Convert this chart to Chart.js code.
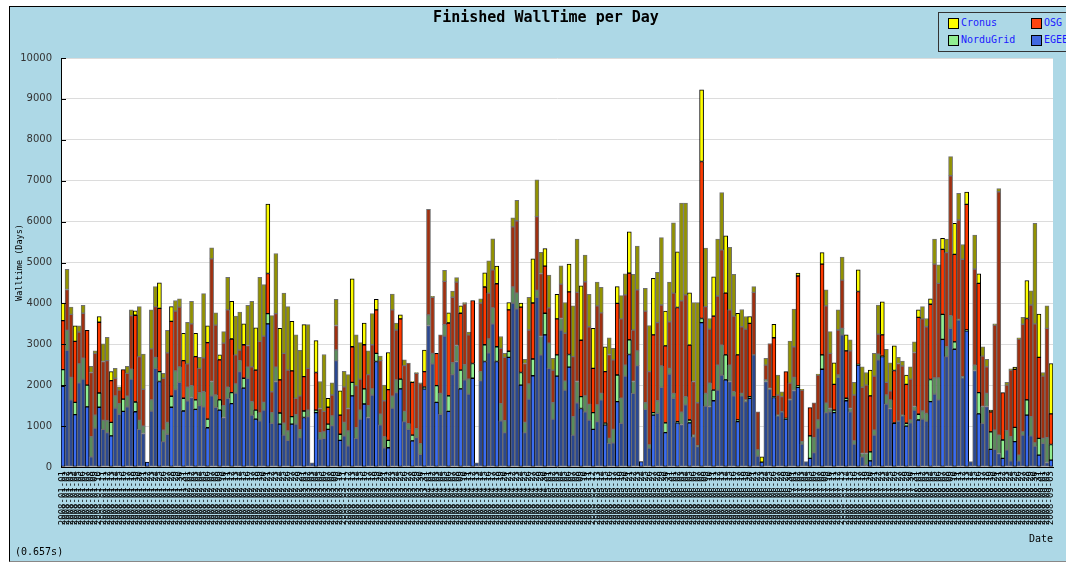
<!DOCTYPE html>
<html><head><meta charset="utf-8">
<script src="https://cdn.jsdelivr.net/npm/chart.js@4.4.1/dist/chart.umd.min.js"></script>
<style>
html,body{margin:0;padding:0;background:#fff;width:1066px;height:563px;overflow:hidden;}
#frame{position:absolute;left:9px;top:6px;width:1100px;height:554px;background:#add8e6;border-top:1px solid #000;border-left:1px solid #000;border-bottom:1px solid #888;}
#c{position:absolute;left:0;top:0;}
#title{position:absolute;left:0;width:1092px;top:8px;text-align:center;font:bold 15px "DejaVu Sans Mono",monospace;color:#000;}
#legend{position:absolute;left:938px;top:12px;width:140px;height:38px;border:1px solid #333;background:#add8e6;}
.sw{position:absolute;width:9px;height:9px;border:1px solid #000;}
.lt{position:absolute;font:10px "DejaVu Sans Mono",monospace;color:#1a1aff;line-height:12px;white-space:nowrap;}
#foot{position:absolute;left:15px;top:546px;font:10px "DejaVu Sans Mono",monospace;color:#000;}
</style></head>
<body>
<div id="frame"></div>
<canvas id="c" width="1066" height="563"></canvas>
<div id="title">Finished WallTime per Day</div>
<div id="legend"></div>
<div id="foot">(0.657s)</div>
<script>
const seriesNames = ['EGEE','NorduGrid','OSG','Cronus'];
const startDate = '2008-01-01';
const dayCount = 247;

const egee = [
1970,2850,1640,1280,2060,2150,1470,250,950,1460,
920,840,760,1440,1290,1360,1470,2150,1350,920,
820,120,1370,2410,2090,620,800,1460,1890,2070,
1370,1620,1700,1410,1500,1470,960,1740,1460,1390,
1210,1680,1550,1810,2330,1930,2170,1270,1170,1130,
1390,3500,1070,2090,1050,780,650,1050,1050,720,
1210,1230,100,1330,680,700,920,1010,2600,650,
760,520,1740,700,1170,1540,1210,1760,2580,1030,
470,470,1440,1820,1910,1110,920,640,720,310,
1910,3460,2520,1580,1290,3200,1360,2260,2580,1910,
2130,1780,2170,100,2110,2580,2790,3500,2580,1130,
840,2680,4010,3870,2000,840,1660,2230,4150,2740,
3230,2410,1170,2220,3350,1880,2440,780,1570,1430,
1350,1150,920,1110,1640,1030,580,590,1600,1070,
2220,2750,1800,2480,130,1410,460,1270,1310,1950,
840,2270,1680,1080,1040,1520,1080,740,500,3530,
1490,1480,1620,1880,2250,2130,2090,1740,1110,1740,
1600,1680,2740,270,120,2090,1900,1700,1250,1350,
1170,1640,1870,1950,560,130,210,350,950,2390,
1330,1350,1330,2190,3230,1620,1350,560,2490,250,
50,150,780,2620,2700,1540,1430,1070,1120,1250,
1000,1080,1390,1150,1170,1120,1600,1780,1640,3120,
2700,3390,2880,3590,2180,3330,130,2360,1300,1070,
1480,430,430,330,210,420,150,620,150,780,
1270,760,510,290,580,110,170];

const nordugrid = [
410,490,550,300,460,510,530,490,320,350,
220,290,330,300,260,300,260,240,240,220,
180,0,270,270,240,280,290,270,460,380,
310,330,290,230,320,370,210,350,300,250,
290,270,270,220,270,240,270,330,220,190,
190,250,260,350,270,290,230,180,230,190,
160,160,0,60,160,160,130,240,260,150,
330,360,330,260,220,370,290,150,200,260,
270,180,290,310,240,250,140,140,220,260,
40,260,260,410,510,280,380,290,390,460,
370,370,360,0,220,410,340,390,360,420,
290,150,390,380,310,250,370,410,170,450,
530,620,400,520,280,220,310,450,520,290,
390,380,410,410,160,40,120,330,650,610,
270,360,290,360,0,160,80,60,310,520,
240,140,120,30,300,200,70,40,20,100,
310,570,260,610,730,610,400,100,40,60,
40,40,0,150,0,40,20,20,20,0,
20,10,320,30,60,0,550,370,200,350,
230,80,60,60,160,60,80,80,20,80,
280,220,120,140,10,220,210,10,0,20,
70,70,90,140,200,190,540,400,540,610,
240,310,180,20,30,20,0,130,520,410,
320,430,470,450,450,470,590,350,140,80,
370,470,80,410,120,610,380];

const osg = [
1200,1000,1540,1490,780,1100,1340,1570,1510,1730,
1440,1470,1020,430,330,720,560,1310,2120,1560,
900,0,1250,1240,1550,1270,1700,1830,1460,1460,
920,570,1510,1060,590,830,1870,3000,1710,980,
1530,1890,1310,710,260,820,530,850,980,1750,
1620,980,510,1310,810,1710,1490,1120,400,830,
840,1020,0,920,590,500,410,510,600,470,
870,550,870,1030,760,1080,760,1080,1060,1310,
880,1240,2110,1220,1470,1120,1480,1290,1350,1470,
380,2580,1370,790,1430,1060,1780,1600,1550,1390,
1490,1080,1540,0,1680,1410,1120,930,1540,1350,
1550,1010,1470,1770,1600,1440,1320,1370,1800,1540,
1150,860,800,880,840,1170,1530,1470,2180,1380,
2790,1900,1080,2420,1970,1260,2050,1700,1750,1940,
1720,1630,1260,1490,0,2240,1790,1900,1910,1490,
1880,1140,2450,2790,2720,2490,1830,1310,1050,3840,
2120,1320,1810,1690,2330,1510,1350,1850,1590,1630,
1730,1790,1530,930,0,360,1100,1440,490,370,
1140,400,750,2690,1260,0,690,850,1100,2220,
2380,1350,630,1100,1180,1160,1410,1120,1780,1620,
1670,1370,1320,490,520,310,220,1280,1410,1200,
950,1000,1320,2370,2250,2120,1840,2780,2310,1590,
2300,3420,2140,2430,2870,3070,0,2350,2670,1230,
650,490,2570,5950,1160,1110,1630,1420,2840,2630,
1990,2730,2910,1980,1520,2670,750];

const cronus = [
430,490,180,380,150,190,0,150,60,140,
430,570,220,240,80,0,170,140,110,1220,
860,0,950,490,620,120,550,360,260,200,
670,1020,550,570,270,1570,410,270,300,120,
280,800,920,950,930,510,980,1600,1030,1570,
1260,1700,1860,1470,1260,1470,1550,1210,1550,1110,
1270,1070,0,780,660,1390,220,300,640,590,
380,830,1660,1240,890,530,580,760,260,110,
380,910,390,170,100,140,0,20,20,20,
530,0,20,0,0,270,250,150,110,180,
30,70,0,0,100,350,790,760,430,290,
100,180,220,500,100,100,800,1080,900,520,
430,800,290,600,450,750,680,1240,1300,1330,
650,790,980,580,620,610,410,280,410,570,
510,1010,1360,1070,0,560,1130,1380,1230,1650,
850,970,1720,1360,2390,2240,1280,1930,2450,1750,
1430,260,960,1390,1400,1400,1530,1020,1020,420,
310,170,140,0,130,170,0,330,490,120,
0,1030,920,70,20,0,0,0,20,280,
390,530,530,490,560,390,270,310,530,500,
310,630,560,710,810,810,690,600,150,120,
230,300,260,180,300,200,130,610,450,270,
330,470,760,650,360,300,0,830,230,230,
180,40,30,80,0,70,30,50,30,170,
930,350,2460,1060,90,550,1230];

const yTicks = [0,1000,2000,3000,4000,5000,6000,7000,8000,9000,10000];

// category labels: one per day
const dates = [];
{
  const d0 = new Date(startDate + 'T00:00:00Z');
  for (let i = 0; i < dayCount; i++) {
    const d = new Date(d0.getTime() + i * 86400000);
    dates.push(d.toISOString().slice(0, 10));
  }
}

const legendColors = {Cronus:'#ffff00', OSG:'#ff4510', NorduGrid:'#90ee90', EGEE:'#4169e1'};
const bright = {EGEE:'#3a6cf0', NorduGrid:'#90ee90', OSG:'#ff3a00', Cronus:'#ffff00'};
const dark = {EGEE:'#2b4890', NorduGrid:'#5a8c5a', OSG:'#a03010', Cronus:'#929200'};
const fillFor = k => c => (c.dataIndex % 3 === 0 ? bright[k] : dark[k]);
const edgeFor = c => (c.dataIndex % 3 === 0 ? '#000000' : '#707070');

// HTML legend
(function(){
  const lg = document.getElementById('legend');
  const items = [['Cronus',9,5],['NorduGrid',9,22],['OSG',92,5],['EGEE',92,22]];
  for (const [name,x,y] of items) {
    const s = document.createElement('div'); s.className='sw';
    s.style.left = x+'px'; s.style.top = y+'px'; s.style.background = legendColors[name];
    lg.appendChild(s);
    const t = document.createElement('div'); t.className='lt';
    t.style.left = (x+13)+'px'; t.style.top = (y-1)+'px'; t.textContent = name;
    lg.appendChild(t);
  }
})();

const plotBg = {
  id:'plotBg',
  beforeDraw(chart){
    const {ctx, chartArea:a} = chart;
    ctx.save(); ctx.fillStyle = '#ffffff';
    ctx.fillRect(a.left, a.top, a.right-a.left, a.bottom-a.top);
    ctx.restore();
  },
  afterDraw(chart){
    const {ctx, chartArea:a} = chart;
    const ys = chart.scales.y;
    ctx.save(); ctx.strokeStyle = '#000'; ctx.lineWidth = 1;
    for (const t of ys.ticks) {
      const y = Math.round(ys.getPixelForValue(t.value)) + 0.5;
      ctx.beginPath(); ctx.moveTo(a.left, y); ctx.lineTo(a.left+5, y); ctx.stroke();
    }
    ctx.restore();
  }
};

const mk = (label, data) => ({
  label, data,
  backgroundColor: fillFor(label),
  borderColor: edgeFor,
  borderWidth: 1,
  borderSkipped: false,
  categoryPercentage: 1.0,
  barPercentage: 1.0
});

new Chart(document.getElementById('c'), {
  type: 'bar',
  data: {
    labels: dates,
    datasets: [mk('EGEE', egee), mk('NorduGrid', nordugrid), mk('OSG', osg), mk('Cronus', cronus)]
  },
  plugins: [plotBg],
  options: {
    responsive: false,
    animation: false,
    devicePixelRatio: 1,
    layout: { padding: { left: 0, top: 58, right: 13, bottom: 0 } },
    plugins: { legend: { display: false }, tooltip: { enabled: false }, title: { display: false } },
    scales: {
      x: {
        stacked: true,
        afterFit: s => { s.height = 96; },
        grid: { display: false, drawTicks: false },
        border: { display: true, color: '#000' },
        ticks: { autoSkip: false, minRotation: 90, maxRotation: 90, padding: 4,
                 color: '#000', font: { family: 'DejaVu Sans Mono', size: 9 } },
        title: { display: true, text: 'Date', align: 'end', color: '#000',
                 font: { family: 'DejaVu Sans Mono', size: 10 }, padding: { top: 0, bottom: 18 } }
      },
      y: {
        stacked: true,
        min: 0, max: 10000,
        afterFit: s => { s.width = 61; },
        afterBuildTicks: s => { s.ticks = yTicks.map(v => ({ value: v })); },
        grid: { color: '#dcdcdc', drawTicks: false },
        border: { display: true, color: '#000' },
        ticks: { padding: 9, color: '#333', font: { family: 'DejaVu Sans', size: 10 },
                 callback: v => String(v) },
        title: { display: true, text: 'Walltime (Days)', color: '#000',
                 font: { family: 'DejaVu Sans Mono', size: 8.5 }, padding: { top: 15, bottom: 0 } }
      }
    }
  }
});
</script>
</body></html>
